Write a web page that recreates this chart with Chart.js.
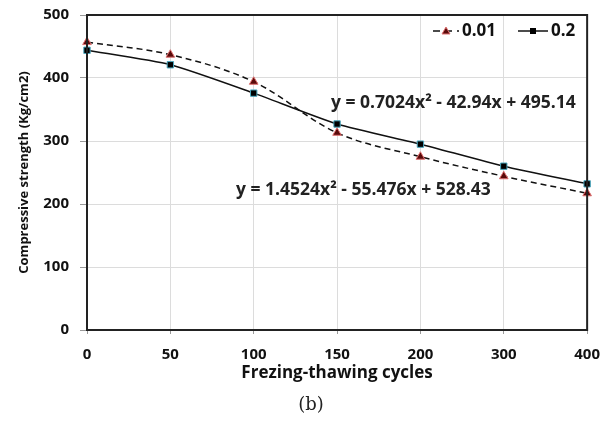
<!DOCTYPE html>
<html>
<head>
<meta charset="utf-8">
<script src="https://cdn.jsdelivr.net/npm/chart.js@4"></script>
<style>
  html, body { margin: 0; padding: 0; background: #fff; }
  #wrap { width: 612px; height: 421px; }
</style>
</head>
<body>
<div id="wrap"><canvas id="chart1"></canvas></div>
<script>
const cycles = ["0", "50", "100", "150", "200", "300", "400"];
const series001 = [457, 437, 394, 313, 275, 244, 217];
const series02 = [444, 421, 376, 327, 295, 260, 232];
const yTicks = [0, 100, 200, 300, 400, 500];
const eq02 = "y = 0.7024x² - 42.94x + 495.14";
const eq001 = "y = 1.4524x² - 55.476x + 528.43";

const FONT = "'Open Sans', Lato, sans-serif";

// legend, equations, frame and caption
const extras = {
  id: "extras",
  afterDraw(chart) {
    const c = chart.ctx;
    const a = chart.chartArea;
    c.save();
    // frame
    c.strokeStyle = "#222";
    c.lineWidth = 2;
    c.strokeRect(a.left, a.top, a.right - a.left, a.bottom - a.top);

    // equations
    c.fillStyle = "#222";
    c.font = "bold 17.5px " + FONT;
    c.textBaseline = "middle";
    c.textAlign = "left";
    c.fillText(eq02, 331, 103);
    c.fillText(eq001, 236, 190);

    // legend
    const items = [
      { ds: chart.data.datasets[0], x: 433, w: 26, text: "0.01" },
      { ds: chart.data.datasets[1], x: 518, w: 30, text: "0.2" },
    ];
    const ly = 31;
    items.forEach((it) => {
      c.strokeStyle = "#111";
      c.lineWidth = 1.5;
      c.setLineDash(it.ds.borderDash ? [7, 5] : []);
      c.beginPath();
      c.moveTo(it.x, ly);
      c.lineTo(it.x + it.w, ly);
      c.stroke();
      c.setLineDash([]);
      const mx = it.x + it.w / 2;
      c.fillStyle = it.ds.pointBackgroundColor;
      c.strokeStyle = it.ds.pointBorderColor;
      c.lineWidth = 1;
      if (it.ds.pointStyle === "triangle") {
        c.beginPath();
        c.moveTo(mx, ly - 4);
        c.lineTo(mx + 4, ly + 3);
        c.lineTo(mx - 4, ly + 3);
        c.closePath();
        c.fill();
        c.stroke();
      } else {
        c.fillRect(mx - 3, ly - 3, 6, 6);
      }
      c.fillStyle = "#111";
      c.font = "bold 17px " + FONT;
      c.fillText(it.text, it.x + it.w + 3, ly);
    });

    // caption
    c.font = "18px 'DejaVu Serif', 'Liberation Serif', serif";
    c.textAlign = "center";
    c.fillStyle = "#222";
    c.fillText("(b)", 311, 405);
    c.restore();
  },
};

const ctx1 = document.getElementById("chart1").getContext("2d");
new Chart(ctx1, {
  type: "line",
  data: {
    labels: cycles,
    datasets: [
      {
        label: "0.01",
        data: series001,
        borderColor: "#111",
        borderWidth: 1.5,
        borderDash: [6, 4],
        pointStyle: "triangle",
        pointRadius: 5,
        pointBackgroundColor: "#5a0a0a",
        pointBorderColor: "#e07070",
        pointBorderWidth: 1,
        tension: 0.35,
      },
      {
        label: "0.2",
        data: series02,
        borderColor: "#111",
        borderWidth: 1.5,
        pointStyle: "rect",
        pointRadius: 4.5,
        pointBackgroundColor: "#000",
        pointBorderColor: "#4aa8c0",
        pointBorderWidth: 1,
        tension: 0.2,
      },
    ],
  },
  options: {
    responsive: true,
    maintainAspectRatio: false,
    animation: false,
    layout: { padding: { top: 15, right: 21, bottom: 31, left: 0 } },
    plugins: {
      legend: { display: false },
      tooltip: { enabled: false },
    },
    scales: {
      x: {
        offset: false,
        afterFit(scale) { scale.height = 60; },
        grid: {
          color: "#dcdcdc",
          tickColor: "#999",
          tickLength: 4,
          lineWidth: 1,
        },
        border: { color: "#222", width: 2 },
        ticks: {
          color: "#111",
          font: { family: FONT, size: 15, weight: "bold" },
          padding: 12,
          maxRotation: 0,
        },
        title: {
          display: true,
          text: "Frezing-thawing cycles",
          color: "#111",
          font: { family: FONT, size: 17, weight: "bold" },
          padding: { top: 0, bottom: 7 },
        },
      },
      y: {
        min: yTicks[0],
        max: yTicks[yTicks.length - 1],
        afterFit(scale) {
          scale.width = 87;
          scale.paddingTop = 0;
          scale.paddingBottom = 0;
        },
        afterBuildTicks(scale) { scale.ticks = yTicks.map((v) => ({ value: v })); },
        grid: {
          color: "#dcdcdc",
          tickColor: "#999",
          tickLength: 7,
        },
        border: { color: "#222", width: 2 },
        ticks: {
          color: "#111",
          font: { family: FONT, size: 15, weight: "bold" },
          padding: 11,
        },
        title: {
          display: true,
          text: "Compressive strength (Kg/cm2)",
          color: "#111",
          font: { family: FONT, size: 13, weight: "bold" },
          padding: { top: 16, bottom: 0 },
        },
      },
    },
  },
  plugins: [extras],
});
</script>
</body>
</html>
